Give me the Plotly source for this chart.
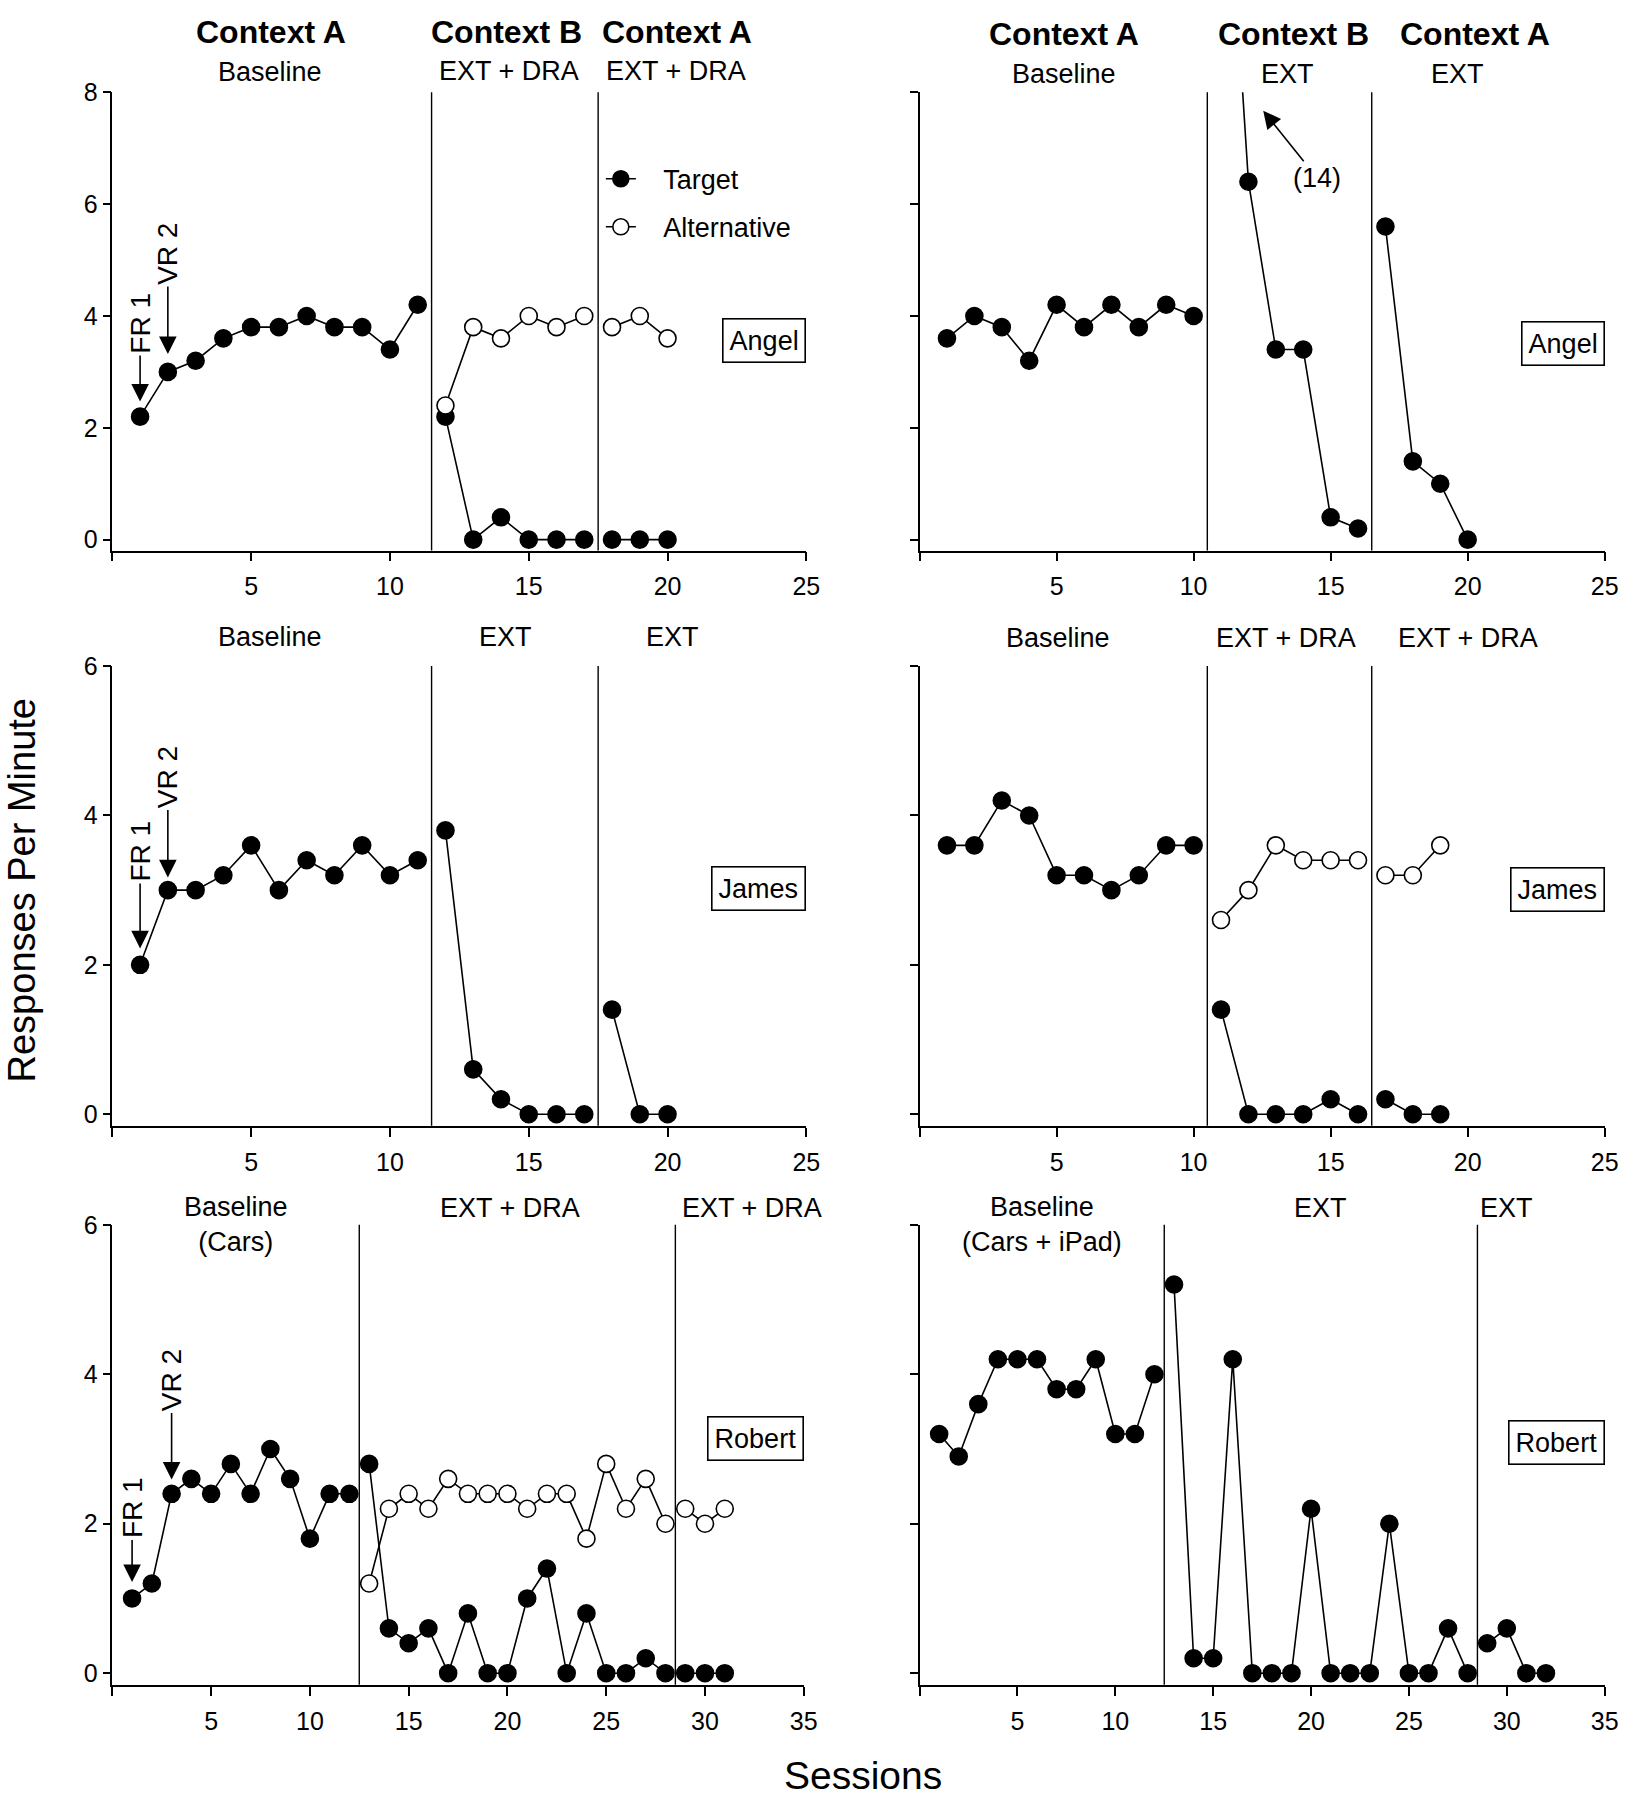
import plotly.graph_objects as go

W, H = 1638, 1800
FONT = "Liberation Sans, Arial, Helvetica, sans-serif"

# ---------------- data ----------------
# Panel 1: Angel, Context B = EXT + DRA
a1_t_base = [2.2, 3.0, 3.2, 3.6, 3.8, 3.8, 4.0, 3.8, 3.8, 3.4, 4.2]
a1_t_ph2 = [2.2, 0.0, 0.4, 0.0, 0.0, 0.0]
a1_a_ph2 = [2.4, 3.8, 3.6, 4.0, 3.8, 4.0]
a1_t_ph3 = [0.0, 0.0, 0.0]
a1_a_ph3 = [3.8, 4.0, 3.6]

# Panel 2: Angel, EXT
a2_t_base = [3.6, 4.0, 3.8, 3.2, 4.2, 3.8, 4.2, 3.8, 4.2, 4.0]
a2_t_ph2 = [14.0, 6.4, 3.4, 3.4, 0.4, 0.2]
a2_t_ph3 = [5.6, 1.4, 1.0, 0.0]

# Panel 3: James, EXT
j1_t_base = [2.0, 3.0, 3.0, 3.2, 3.6, 3.0, 3.4, 3.2, 3.6, 3.2, 3.4]
j1_t_ph2 = [3.8, 0.6, 0.2, 0.0, 0.0, 0.0]
j1_t_ph3 = [1.4, 0.0, 0.0]

# Panel 4: James, EXT + DRA
j2_t_base = [3.6, 3.6, 4.2, 4.0, 3.2, 3.2, 3.0, 3.2, 3.6, 3.6]
j2_t_ph2 = [1.4, 0.0, 0.0, 0.0, 0.2, 0.0]
j2_a_ph2 = [2.6, 3.0, 3.6, 3.4, 3.4, 3.4]
j2_t_ph3 = [0.2, 0.0, 0.0]
j2_a_ph3 = [3.2, 3.2, 3.6]

# Panel 5: Robert, EXT + DRA
r1_t_base = [1.0, 1.2, 2.4, 2.6, 2.4, 2.8, 2.4, 3.0, 2.6, 1.8, 2.4, 2.4]
r1_t_ph2 = [2.8, 0.6, 0.4, 0.6, 0.0, 0.8, 0.0, 0.0, 1.0, 1.4, 0.0, 0.8, 0.0, 0.0, 0.2, 0.0]
r1_a_ph2 = [1.2, 2.2, 2.4, 2.2, 2.6, 2.4, 2.4, 2.4, 2.2, 2.4, 2.4, 1.8, 2.8, 2.2, 2.6, 2.0]
r1_t_ph3 = [0.0, 0.0, 0.0]
r1_a_ph3 = [2.2, 2.0, 2.2]

# Panel 6: Robert, EXT
r2_t_base = [3.2, 2.9, 3.6, 4.2, 4.2, 4.2, 3.8, 3.8, 4.2, 3.2, 3.2, 4.0]
r2_t_ph2 = [5.2, 0.2, 0.2, 4.2, 0.0, 0.0, 0.0, 2.2, 0.0, 0.0, 0.0, 2.0, 0.0, 0.0, 0.6, 0.0]
r2_t_ph3 = [0.4, 0.6, 0.0, 0.0]

x_ticks_25 = [0, 5, 10, 15, 20, 25]
x_ticks_35 = [0, 5, 10, 15, 20, 25, 30, 35]
y_ticks_8 = [0, 2, 4, 6, 8]
y_ticks_6 = [0, 2, 4, 6]

# ---------------- layout helpers ----------------
def px_x(p):
    return p / W

def px_y(p):
    return 1 - p / H

x_doms = {
    (0, 0): [px_x(113.3), px_x(813.3)],
    (0, 1): [px_x(927.5), px_x(1618.5)],
    (1, 0): [px_x(113.3), px_x(813.3)],
    (1, 1): [px_x(927.5), px_x(1618.5)],
    (2, 0): [px_x(113.3), px_x(810.7)],
    (2, 1): [px_x(927.5), px_x(1618.5)],
}
y_dom_rows = [
    [px_y(541.7), px_y(79)],
    [px_y(1122.3), px_y(658.3)],
    [px_y(1686.7), px_y(1222.3)],
]

panels = [
    dict(row=0, col=0, xmax=25, xt=x_ticks_25, yr=[-0.195, 8], yt=y_ticks_8, lines=[11.5, 17.5]),
    dict(row=0, col=1, xmax=25, xt=x_ticks_25, yr=[-0.195, 8], yt=y_ticks_8, lines=[10.5, 16.5]),
    dict(row=1, col=0, xmax=25, xt=x_ticks_25, yr=[-0.154, 6], yt=y_ticks_6, lines=[11.5, 17.5]),
    dict(row=1, col=1, xmax=25, xt=x_ticks_25, yr=[-0.154, 6], yt=y_ticks_6, lines=[10.5, 16.5]),
    dict(row=2, col=0, xmax=35, xt=x_ticks_35, yr=[-0.155, 6], yt=y_ticks_6, lines=[12.5, 28.5]),
    dict(row=2, col=1, xmax=35, xt=x_ticks_35, yr=[-0.155, 6], yt=y_ticks_6, lines=[12.5, 28.5]),
]

fig = go.Figure()

MS = 17
LW = 1.6
NB = "\u00a0"


def seg(panel_idx, start, values, filled=True, legend=False):
    n = panel_idx + 1
    xs = list(range(start, start + len(values)))
    label = "Target" if filled else "Alternative"
    fig.add_trace(go.Scatter(
        x=xs, y=values, mode="lines+markers",
        xaxis="x" if n == 1 else f"x{n}",
        yaxis="y" if n == 1 else f"y{n}",
        line=dict(color="black", width=LW),
        marker=dict(size=MS, symbol="circle",
                    color="black" if filled else "white",
                    line=dict(color="black", width=1.6)),
        name=NB * 3 + label,
        showlegend=legend,
        legendgroup=label,
    ))

# Panel 1
seg(0, 1, a1_t_base)
seg(0, 12, a1_t_ph2, legend=True)
seg(0, 12, a1_a_ph2, filled=False, legend=True)
seg(0, 18, a1_a_ph3, filled=False)
seg(0, 18, a1_t_ph3)
# Panel 2
seg(1, 1, a2_t_base)
seg(1, 11, a2_t_ph2)
seg(1, 17, a2_t_ph3)
# Panel 3
seg(2, 1, j1_t_base)
seg(2, 12, j1_t_ph2)
seg(2, 18, j1_t_ph3)
# Panel 4
seg(3, 1, j2_t_base)
seg(3, 11, j2_a_ph2, filled=False)
seg(3, 11, j2_t_ph2)
seg(3, 17, j2_a_ph3, filled=False)
seg(3, 17, j2_t_ph3)
# Panel 5
seg(4, 1, r1_t_base)
seg(4, 13, r1_a_ph2, filled=False)
seg(4, 13, r1_t_ph2)
seg(4, 29, r1_a_ph3, filled=False)
seg(4, 29, r1_t_ph3)
# Panel 6
seg(5, 1, r2_t_base)
seg(5, 13, r2_t_ph2)
seg(5, 29, r2_t_ph3)

layout = dict(
    width=W, height=H,
    margin=dict(l=0, r=0, t=0, b=0),
    paper_bgcolor="white", plot_bgcolor="white",
    font=dict(family=FONT, size=27, color="black"),
    showlegend=True,
    legend=dict(x=px_x(606), y=px_y(142), xanchor="left", yanchor="top",
                bgcolor="rgba(0,0,0,0)", font=dict(size=27),
                tracegroupgap=10, itemwidth=30, traceorder="grouped"),
)

shapes = []
for i, p in enumerate(panels):
    n = i + 1
    xk = "xaxis" if n == 1 else f"xaxis{n}"
    yk = "yaxis" if n == 1 else f"yaxis{n}"
    xref = "x" if n == 1 else f"x{n}"
    yref = "y" if n == 1 else f"y{n}"
    layout[xk] = dict(
        domain=x_doms[(p["row"], p["col"])],
        range=[0, p["xmax"]], anchor=yref,
        showline=True, linecolor="black", linewidth=1.6,
        ticks="outside", ticklen=9, tickwidth=1.6, tickcolor="black",
        tickvals=p["xt"], ticktext=[""] + [str(v) for v in p["xt"][1:]],
        tickfont=dict(size=25), ticklabelstandoff=4,
        showgrid=False, zeroline=False,
    )
    layout[yk] = dict(
        domain=y_dom_rows[p["row"]], range=p["yr"], anchor=xref,
        showline=True, linecolor="black", linewidth=1.6,
        ticks="outside", ticklen=8, tickwidth=1.6, tickcolor="black",
        tickvals=p["yt"], showticklabels=(p["col"] == 0),
        tickfont=dict(size=25), showgrid=False, zeroline=False,
    )
    for lx in p["lines"]:
        shapes.append(dict(type="line", xref=xref, yref=f"{yref} domain",
                           x0=lx, x1=lx, y0=0, y1=1,
                           line=dict(color="black", width=1.4)))

layout["shapes"] = shapes

ann = []

def txt(x, y, s, size=27, bold=False):
    ann.append(dict(x=px_x(x), y=px_y(y), xref="paper", yref="paper",
                    text=(f"<b>{s}</b>" if bold else s), showarrow=False,
                    xanchor="center", yanchor="middle",
                    font=dict(size=size)))

# context titles
BS = 32
txt(273, 18, "Context A", BS, True)
txt(511, 18, "Context B", BS, True)
txt(683, 18, "Context A", BS, True)
txt(1073, 20, "Context A", BS, True)
txt(1305, 20, "Context B", BS, True)
txt(1488, 20, "Context A", BS, True)

# phase labels
txt(272, 59, "Baseline")
txt(513, 58, "EXT + DRA")
txt(682, 58, "EXT + DRA")
txt(1073, 61, "Baseline")
txt(1299, 61, "EXT")
txt(1470, 61, "EXT")

txt(272, 629, "Baseline")
txt(510, 629, "EXT")
txt(678, 629, "EXT")
txt(1067, 630, "Baseline")
txt(1297, 630, "EXT + DRA")
txt(1481, 630, "EXT + DRA")

txt(238, 1222, "Baseline<br>(Cars)")
txt(514, 1205, "EXT + DRA")
txt(758, 1205, "EXT + DRA")
txt(1051, 1222, "Baseline<br>(Cars + iPad)")
txt(1332, 1205, "EXT")
txt(1519, 1205, "EXT")

# participant name boxes
def namebox(n, xmax, ycenter, s):
    ann.append(dict(x=xmax, y=px_y(ycenter), xref=("x" if n == 1 else f"x{n}"),
                    yref="paper", text=s, showarrow=False,
                    xanchor="right", yanchor="middle",
                    bordercolor="black", borderwidth=1.6, borderpad=6,
                    bgcolor="white", font=dict(size=27)))

namebox(1, 25, 330, "Angel")
namebox(2, 25, 333, "Angel")
namebox(3, 25, 883, "James")
namebox(4, 25, 884, "James")
namebox(5, 35, 1438, "Robert")
namebox(6, 35, 1442, "Robert")

# FR 1 / VR 2 arrows
def schedule_arrow(n, x, y, s, off):
    ann.append(dict(x=x, y=y, xref=("x" if n == 1 else f"x{n}"),
                    yref=("y" if n == 1 else f"y{n}"),
                    text=s, textangle=-90, showarrow=True,
                    ax=0, ay=-off, arrowhead=2, arrowsize=2.2,
                    arrowwidth=1.6, arrowcolor="black",
                    font=dict(size=28)))

schedule_arrow(1, 1, 2.47, "FR 1", 78)
schedule_arrow(1, 2, 3.32, "VR 2", 100)
schedule_arrow(3, 1, 2.22, "FR 1", 97)
schedule_arrow(3, 2, 3.17, "VR 2", 100)
schedule_arrow(5, 1, 1.22, "FR 1", 74)
schedule_arrow(5, 3, 2.59, "VR 2", 99)

# (14) off-scale annotation
ann.append(dict(x=12.54, y=7.67, xref="x2", yref="y2",
                ax=14.5, ay=6.47, axref="x2", ayref="y2",
                text="(14)", showarrow=True, arrowhead=2, arrowsize=2.2,
                arrowwidth=1.6, arrowcolor="black", font=dict(size=27)))

# axis titles
ann.append(dict(x=px_x(22), y=px_y(885), xref="paper", yref="paper",
                text="Responses Per Minute", textangle=-90, showarrow=False,
                xanchor="center", yanchor="middle", font=dict(size=38)))
ann.append(dict(x=px_x(870), y=px_y(1778), xref="paper", yref="paper",
                text="Sessions", showarrow=False,
                xanchor="center", yanchor="middle", font=dict(size=39)))

layout["annotations"] = ann
fig.update_layout(**layout)

# pin the figure to the top-left corner of the page (no body margin)
post = ("document.body.style.margin='0';document.body.style.padding='0';"
        "var d=document.getElementById('{plot_id}');"
        "d.style.position='fixed';d.style.left='0px';d.style.top='0px';")

fig.write_html("out.html", post_script=post,
               config={"displayModeBar": False})
